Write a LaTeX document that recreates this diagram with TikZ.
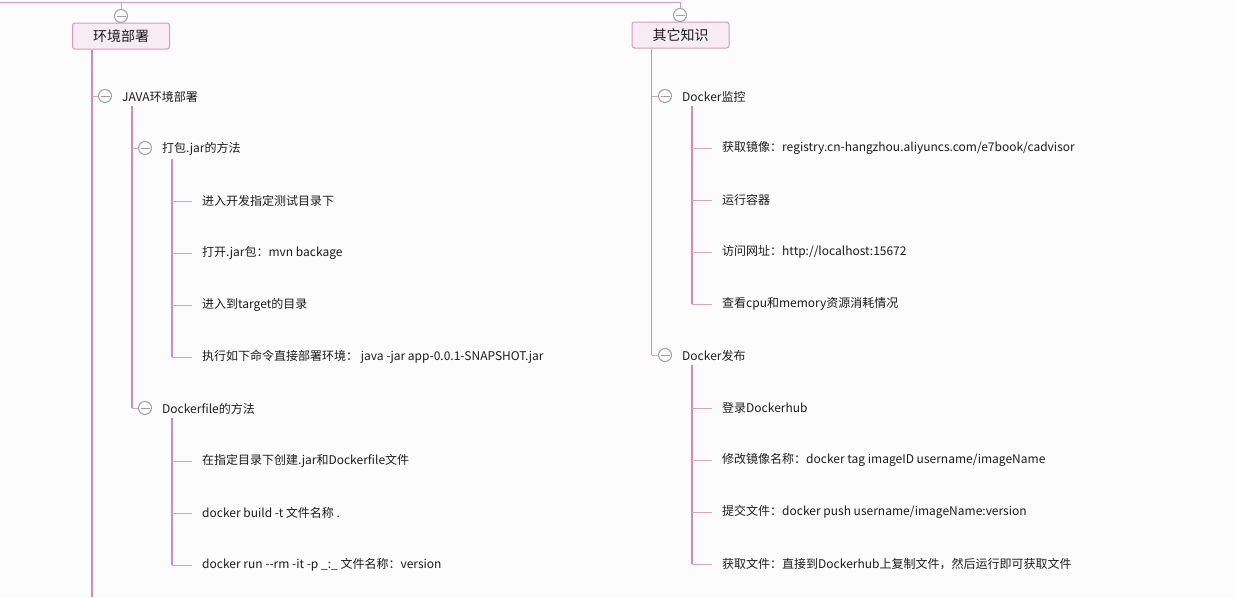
\documentclass[tikz,border=0pt]{standalone}
\usepackage{fontspec}
\newfontfamily\cjkfont{Noto Sans CJK SC}
\usetikzlibrary{positioning}
\definecolor{mindpink}{RGB}{216,154,184}
\definecolor{mindfill}{RGB}{248,236,243}
\definecolor{trunkpink}{RGB}{210,140,172}
\definecolor{twigpink}{RGB}{220,162,190}
\definecolor{foldgray}{RGB}{160,160,160}
\definecolor{paper}{RGB}{252,252,253}
\definecolor{inktext}{RGB}{28,28,28}

\begin{document}
\begin{tikzpicture}[
      x=1pt, y=-1pt,
      head/.style={draw=mindpink, fill=mindfill, line width=1pt, rounded corners=2.5pt, minimum width=97pt, minimum height=26pt, inner sep=0pt, font=\cjkfont\fontsize{14}{16}\selectfont, text=inktext},
      fold/.style={circle, draw=foldgray, fill=white, line width=1pt, minimum size=13pt, inner sep=0pt,
        path picture={\draw[foldgray, line width=1pt] ([xshift=-4.5pt]path picture bounding box.center) -- ([xshift=4.5pt]path picture bounding box.center);}},
      topic/.style={anchor=west, inner xsep=10pt, inner ysep=3pt, yshift=-1pt, font=\cjkfont\fontsize{12}{14}\selectfont, text=inktext},
      leaf/.style={topic},
      root/.style={draw=mindpink, line width=1pt},
      trunk/.style={draw=trunkpink, line width=1.3pt},
      twig/.style={draw=twigpink, line width=1pt}
    ]
      \fill[paper] (0,0) rectangle (1236,597);
      \useasboundingbox (0,0) rectangle (1236,597);

      % top level
      \node[head] (env) at (121,36) {环境部署};
      \node[head] (oth) at (680.5,35) {其它知识};
      \node[fold] (envF) at (121,16) {};
      \node[fold] (othF) at (680,15) {};
      \coordinate (rootL) at (0,2);
      \draw[root] (rootL) -| (othF);
      \draw[root] (rootL -| envF) -- (envF);

      % 环境部署
      \coordinate (envT) at ([xshift=20pt]env.south west);
      \coordinate (envEnd) at (92,597);
      \draw[trunk] (envT) -- (envEnd);
      \node[fold] (javaF) at (105,96) {};
      \node[topic, right=0pt of javaF] (java) {JAVA环境部署};
      \draw[twig] (envT |- javaF) -- (javaF);

      \node[fold] (jarF) at (145,148) {};
      \node[topic, right=0pt of jarF] (jar) {打包.jar的方法};
      \node[fold] (dfF) at (145,408) {};
      \node[topic, right=0pt of dfF] (df) {Dockerfile的方法};
      \coordinate (javaT) at ([xshift=20pt]java.south west);
      \draw[trunk] (javaT) -- (javaT |- dfF);
      \draw[twig] (javaT |- jarF) -- (jarF);
      \draw[twig] (javaT |- dfF) -- (dfF);

      \node[leaf] (jar1) at (192,200) {进入开发指定测试目录下};
      \node[leaf] (jar2) at (192,252) {打开.jar包：mvn backage};
      \node[leaf] (jar3) at (192,304) {进入到target的目录};
      \node[leaf] (jar4) at (192,356) {执行如下命令直接部署环境： java -jar app-0.0.1-SNAPSHOT.jar};
      \coordinate (jarT) at ([xshift=20pt]jar.south west);
      \draw[trunk] (jarT) -- (jarT |- jar4.west);
      \draw[twig] (jarT |- jar1.west) -- (jar1.west);
      \draw[twig] (jarT |- jar2.west) -- (jar2.west);
      \draw[twig] (jarT |- jar3.west) -- (jar3.west);
      \draw[twig] (jarT |- jar4.west) -- (jar4.west);

      \node[leaf] (df1) at (192,460) {在指定目录下创建.jar和Dockerfile文件};
      \node[leaf] (df2) at (192,512) {docker build -t 文件名称 .};
      \node[leaf] (df3) at (192,564) {docker run --rm -it -p \_:\_ 文件名称：version};
      \coordinate (dfT) at ([xshift=20pt]df.south west);
      \draw[trunk] (dfT) -- (dfT |- df3.west);
      \draw[twig] (dfT |- df1.west) -- (df1.west);
      \draw[twig] (dfT |- df2.west) -- (df2.west);
      \draw[twig] (dfT |- df3.west) -- (df3.west);

      % 其它知识
      \node[fold] (monF) at (665,96) {};
      \node[topic, right=0pt of monF] (mon) {Docker监控};
      \node[fold] (pubF) at (665,355) {};
      \node[topic, right=0pt of pubF] (pub) {Docker发布};
      \coordinate (othT) at ([xshift=20pt]oth.south west);
      \draw[trunk] (othT) -- (othT |- pubF);
      \draw[twig] (othT |- monF) -- (monF);
      \draw[twig] (othT |- pubF) -- (pubF);

      \node[leaf] (mon1) at (712,147) {获取镜像：registry.cn-hangzhou.aliyuncs.com/e7book/cadvisor};
      \node[leaf] (mon2) at (712,199) {运行容器};
      \node[leaf] (mon3) at (712,251) {访问网址：http://localhost:15672};
      \node[leaf] (mon4) at (712,303) {查看cpu和memory资源消耗情况};
      \coordinate (monT) at ([xshift=20pt]mon.south west);
      \draw[trunk] (monT) -- (monT |- mon4.west);
      \draw[twig] (monT |- mon1.west) -- (mon1.west);
      \draw[twig] (monT |- mon2.west) -- (mon2.west);
      \draw[twig] (monT |- mon3.west) -- (mon3.west);
      \draw[twig] (monT |- mon4.west) -- (mon4.west);

      \node[leaf] (pub1) at (712,407) {登录Dockerhub};
      \node[leaf] (pub2) at (712,459) {修改镜像名称：docker tag imageID username/imageName};
      \node[leaf] (pub3) at (712,511) {提交文件：docker push username/imageName:version};
      \node[leaf] (pub4) at (712,563) {获取文件：直接到Dockerhub上复制文件，然后运行即可获取文件};
      \coordinate (pubT) at ([xshift=20pt]pub.south west);
      \draw[trunk] (pubT) -- (pubT |- pub4.west);
      \draw[twig] (pubT |- pub1.west) -- (pub1.west);
      \draw[twig] (pubT |- pub2.west) -- (pub2.west);
      \draw[twig] (pubT |- pub3.west) -- (pub3.west);
      \draw[twig] (pubT |- pub4.west) -- (pub4.west);
    \end{tikzpicture}
\end{document}
